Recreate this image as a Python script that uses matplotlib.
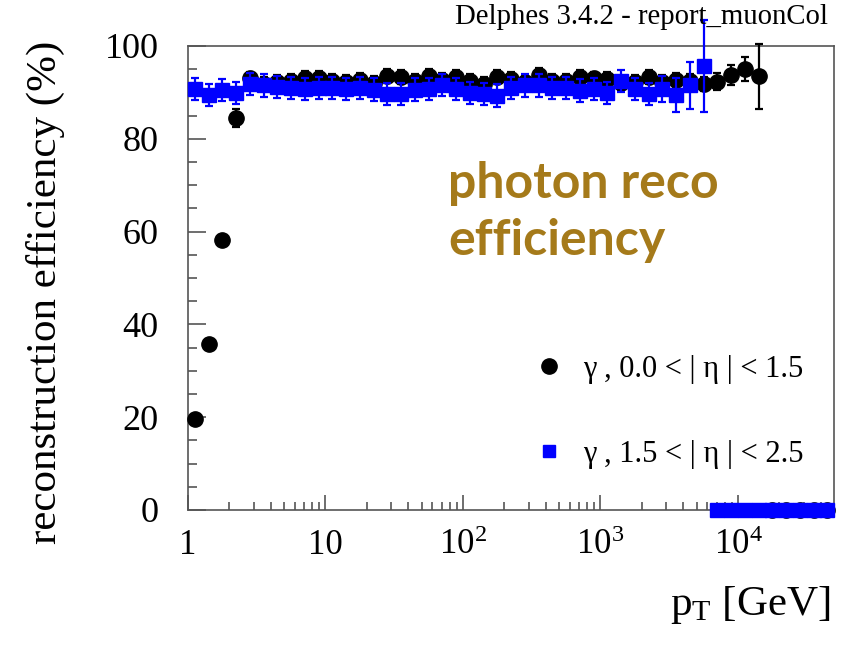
import numpy as np
import matplotlib
matplotlib.use("Agg")
import matplotlib.pyplot as plt
from matplotlib.lines import Line2D
from matplotlib.ticker import FixedLocator, FixedFormatter, MultipleLocator, NullFormatter

plt.rcParams['font.family'] = ['Liberation Serif', 'DejaVu Serif']
plt.rcParams['mathtext.fontset'] = 'stix'

# log10(pT) bins of width 0.1 from 1 GeV to 50 TeV
LOG_EDGES = np.linspace(0.0, 4.7, 48)
pt_centers = 10 ** (0.5 * (LOG_EDGES[:-1] + LOG_EDGES[1:]))

# photons, 0.0 < |eta| < 1.5
eff_central = [19.7, 35.8, 58.2, 84.5,
               93.0, 91.9, 92.3, 92.5, 93.2, 93.2, 92.5, 92.3, 92.6,
               92.0, 93.6, 93.3, 92.5, 93.6, 92.7, 93.3, 92.4, 91.8, 93.4,
               92.8, 92.2, 93.8, 92.4, 92.5, 93.3, 93.0, 92.9, 92.0, 92.3, 93.4, 92.2,
               92.6, 92.4, 91.8, 92.3, 93.7, 95.0, 93.5,
               0.0, 0.0, 0.0, 0.0, 0.0]
err_central = [0.8, 1.0, 1.0, 2.0] + [1.5] * 33 + [1.6, 1.8, 2.2, 2.6, 7.0] + [0.0] * 5

# photons, 1.5 < |eta| < 2.5
eff_forward = [90.8, 89.4, 90.5, 89.8,
               91.8, 91.5, 91.2, 91.0, 90.8, 91.0, 90.9, 90.8, 91.0,
               90.6, 89.7, 89.7, 90.6, 90.8, 91.6, 90.8, 89.9, 89.7, 89.3,
               90.9, 91.5, 91.5, 90.9, 90.9, 90.4, 90.8, 89.9, 92.4, 90.8, 89.7,
               90.8, 89.4, 91.5, 95.7,
               0.0, 0.0, 0.0, 0.0, 0.0, 0.0, 0.0, 0.0, 0.0]
err_forward = [2.4] * 34 + [2.8, 3.7, 5.1, 10.0] + [0.0] * 9

label_central = u'\u03b3 , 0.0 < | \u03b7 | < 1.5'
label_forward = u'\u03b3 , 1.5 < | \u03b7 | < 2.5'

fig = plt.figure(figsize=(8.48, 6.56), dpi=100)
ax = fig.add_axes([0.2217, 0.2226, 0.7618, 0.7073])

ax.errorbar(pt_centers, eff_central, yerr=err_central, fmt='o', color='black',
            ms=11, elinewidth=1.6, capsize=3, capthick=1.6, clip_on=False, zorder=3)
ax.errorbar(pt_centers, eff_forward, yerr=err_forward, fmt='s', color='#0000ff',
            ms=10, elinewidth=1.6, capsize=3, capthick=1.6, clip_on=False, zorder=4)

ax.set_xscale('log')
ax.set_xlim(1, 5e4)
ax.set_ylim(0, 100)

ax.xaxis.set_major_locator(FixedLocator([1, 10, 100, 1000, 10000]))
ax.xaxis.set_major_formatter(FixedFormatter(['1', '10', r'$\mathregular{10^{2}}$',
                                             r'$\mathregular{10^{3}}$', r'$\mathregular{10^{4}}$']))
minor = [m * 10 ** d for d in range(5) for m in range(2, 10) if m * 10 ** d < 5e4]
ax.xaxis.set_minor_locator(FixedLocator(minor))
ax.xaxis.set_minor_formatter(NullFormatter())
ax.yaxis.set_major_locator(MultipleLocator(20))
ax.yaxis.set_minor_locator(MultipleLocator(5))

ax.tick_params(which='both', direction='in', top=False, right=False, color='#555555', width=1.2)
ax.tick_params(axis='y', which='major', length=13, labelsize=26, pad=21)
ax.tick_params(axis='y', which='minor', length=6.5)
ax.tick_params(axis='x', which='major', length=11, labelsize=25, pad=14)
ax.tick_params(axis='x', which='minor', length=5.5)
for sp in ax.spines.values():
    sp.set_color('#555555')
    sp.set_linewidth(1.2)

ax.set_ylabel('reconstruction efficiency (%)', fontsize=31, va='center')
ax.yaxis.set_label_coords(-0.22, 0.47)
ax.set_xlabel(r'$\mathregular{p_{T}}$ [GeV]', fontsize=31, ha='right', va='center')
ax.xaxis.set_label_coords(0.995, -0.205)

handles = [Line2D([], [], ls='none', marker='o', color='black', ms=11),
           Line2D([], [], ls='none', marker='s', color='#0000ff', ms=9)]
ax.legend(handles, [label_central, label_forward], loc='center left',
          bbox_to_anchor=(0.5356, 0.212), frameon=False, fontsize=22,
          borderpad=0, borderaxespad=0, labelspacing=1.83,
          handletextpad=0.6, handlelength=1.0)

fig.text(0.976, 0.974, 'Delphes 3.4.2 - report_muonCol', ha='right', va='center', fontsize=20.7)

ax.text(0.403, 0.643, 'photon reco\nefficiency', transform=ax.transAxes,
        family=['Lato', 'DejaVu Sans'], fontweight='bold', fontsize=36,
        color='#a57a1a', ha='left', va='center', linespacing=1.32)

fig.savefig('out.png', dpi=100)
